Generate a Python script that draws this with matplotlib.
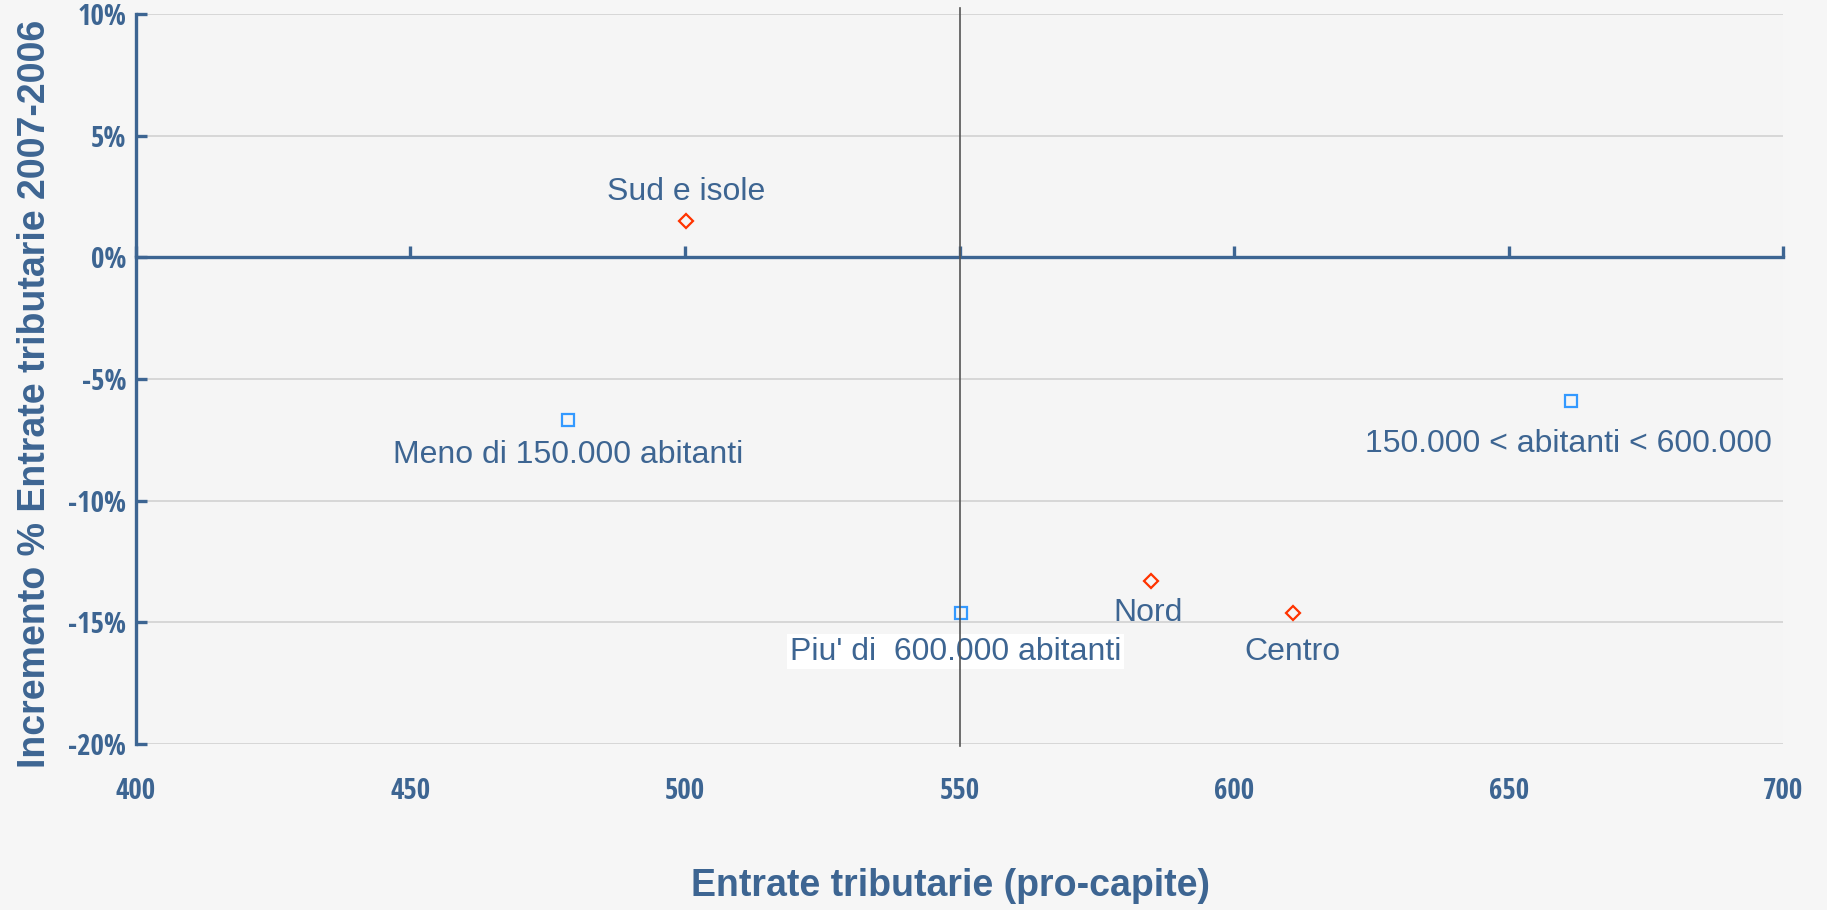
import matplotlib.pyplot as plt
from matplotlib.ticker import FuncFormatter

# dati
gruppi_area = ["Sud e isole", "Nord", "Centro"]
area_x = [500.2, 584.9, 610.7]
area_y = [1.5, -13.3, -14.6]

gruppi_dim = ["Meno di 150.000 abitanti", "Piu' di  600.000 abitanti", "150.000 < abitanti < 600.000"]
dim_x = [478.7, 550.3, 661.4]
dim_y = [-6.7, -14.6, -5.9]

x_ticks = [400, 450, 500, 550, 600, 650, 700]
y_ticks = [-20, -15, -10, -5, 0, 5, 10]

blu = "#3d6592"
rosso = "#ff3300"
azzurro = "#3399ff"
sans = ["Liberation Sans", "DejaVu Sans"]
stretto = ["Liberation Sans Narrow", "Open Sans Condensed", "Liberation Sans", "DejaVu Sans"]

fig = plt.figure(figsize=(18.27, 9.10), dpi=100, facecolor="#f6f6f6")
ax = fig.add_axes([0.0744, 0.1824, 0.9016, 0.8022])
ax.set_facecolor("#f5f5f5")
ax.set_xlim(400, 700)
ax.set_ylim(-20, 10)

# griglia
for y in y_ticks:
    ax.axhline(y, color="#d4d4d4", lw=1.3, zorder=0)

# linea verticale a 550
ax.plot([550, 550], [-20.1, 10.25], color="#555555", lw=1.2, clip_on=False, zorder=5)

# spine
for s in ["right", "bottom"]:
    ax.spines[s].set_visible(False)
ax.spines["left"].set_color(blu)
ax.spines["left"].set_linewidth(2.4)
ax.spines["top"].set_position(("data", 0))
ax.spines["top"].set_color(blu)
ax.spines["top"].set_linewidth(2.4)

ax.set_xticks(x_ticks)
ax.set_yticks(y_ticks)
ax.yaxis.set_major_formatter(FuncFormatter(lambda v, p: "%d%%" % v))
ax.tick_params(axis="y", direction="in", length=8, width=2.4, color=blu,
               labelcolor=blu, labelsize=21, pad=7)
ax.tick_params(axis="x", bottom=False, top=True, labelbottom=True, labeltop=False,
               direction="out", length=8, width=2.4, color=blu,
               labelcolor=blu, labelsize=21, pad=16)
for lab in ax.get_xticklabels() + ax.get_yticklabels():
    lab.set_family(stretto)
    lab.set_fontweight("bold")

# punti
ax.plot(area_x, area_y, linestyle="none", marker="D", markersize=7,
        markerfacecolor="none", markeredgecolor=rosso, markeredgewidth=1.6, zorder=3)
ax.plot(dim_x, dim_y, linestyle="none", marker="s", markersize=8,
        markerfacecolor="none", markeredgecolor=azzurro, markeredgewidth=1.6, zorder=3)

# etichette
stile = dict(color=blu, fontsize=23, family=sans, ha="center", va="center", zorder=4)
ax.annotate(gruppi_area[0], (area_x[0], area_y[0]), xytext=(0, 21), textcoords="offset points", **stile)
ax.annotate(gruppi_area[1], (area_x[1], area_y[1]), xytext=(-2, -23), textcoords="offset points", **stile)
ax.annotate(gruppi_area[2], (area_x[2], area_y[2]), xytext=(0, -28), textcoords="offset points", **stile)
ax.annotate(gruppi_dim[0], (dim_x[0], dim_y[0]), xytext=(0, -25), textcoords="offset points", **stile)
ax.annotate(gruppi_dim[1], (dim_x[1], dim_y[1]), xytext=(-4, -28), textcoords="offset points",
            bbox=dict(facecolor="white", edgecolor="none", pad=2), **stile)
ax.annotate(gruppi_dim[2], (dim_x[2], dim_y[2]), xytext=(-2, -31), textcoords="offset points", **stile)

# titoli assi
fig.text(0.52, 0.026, "Entrate tributarie (pro-capite)", color=blu, fontsize=27,
         fontweight="bold", family=sans, ha="center", va="center")
fig.text(0.019, 0.567, "Incremento % Entrate tributarie 2007-2006", color=blu, fontsize=27,
         fontweight="bold", family=sans, ha="center", va="center", rotation=90)

fig.savefig("out.png", dpi=100, facecolor=fig.get_facecolor())
